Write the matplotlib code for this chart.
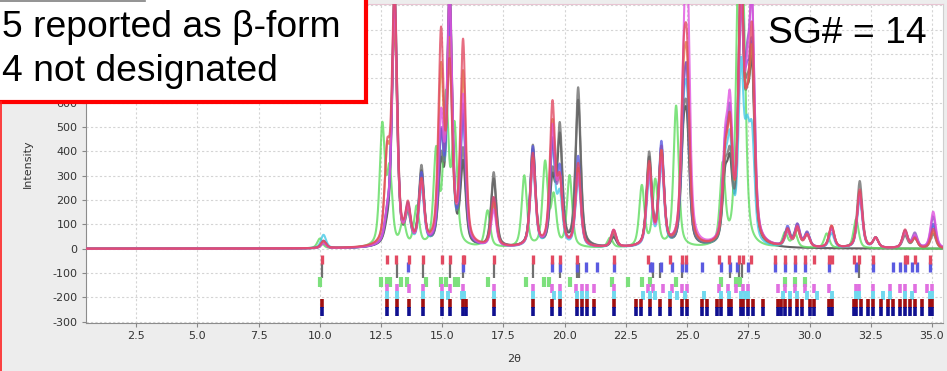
import numpy as np
import matplotlib
matplotlib.use("Agg")
import matplotlib.pyplot as plt
from matplotlib.patches import Rectangle
from matplotlib.lines import Line2D

# ---------------- data ----------------
peak_pos = [10.15, 12.75, 13.05, 13.6, 14.15, 14.95, 15.3, 15.85, 17.1, 18.7, 19.5, 19.8,
            20.55, 22.0, 23.45, 23.95, 24.85, 25.0, 26.55, 26.75, 27.2, 27.45, 27.65, 29.1,
            29.5, 29.9, 30.9, 32.05, 32.7, 33.9, 34.3, 35.05]
gray_h    = [25, 60, 1050, 140, 320, 320, 1050, 380, 305, 415, 280, 480, 650, 50, 380, 400, 380, 420, 260, 300, 1050, 400, 700, 70, 70, 50, 80, 275, 40, 50, 40, 60]
blue_h    = [30, 80, 1000, 150, 290, 420, 900, 520, 200, 410, 420, 300, 370, 60, 330, 420, 420, 560, 330, 420, 1050, 450, 700, 80, 90, 55, 80, 230, 40, 70, 45, 100]
red_h     = [30, 350, 1050, 150, 260, 850, 700, 830, 200, 380, 577, 250, 340, 70, 340, 380, 573, 640, 300, 430, 1050, 330, 800, 70, 80, 50, 90, 240, 40, 75, 40, 80]
magenta_h = [20, 90, 1000, 140, 250, 500, 1000, 600, 150, 350, 480, 260, 300, 70, 300, 350, 440, 1050, 350, 510, 900, 450, 910, 60, 80, 50, 80, 220, 40, 65, 50, 150]
cyan_h    = [55, 80, 1050, 120, 230, 420, 800, 540, 180, 330, 400, 200, 280, 60, 280, 330, 400, 500, 280, 380, 700, 350, 400, 60, 80, 60, 60, 200, 40, 60, 40, 90]
purple_h  = [30, 100, 950, 140, 260, 420, 1000, 560, 200, 370, 420, 260, 320, 70, 330, 400, 420, 560, 330, 460, 950, 500, 880, 70, 90, 60, 85, 230, 40, 70, 60, 130]
orange_h  = [25, 350, 900, 130, 260, 700, 800, 700, 180, 360, 500, 250, 320, 60, 330, 380, 500, 600, 300, 420, 1050, 350, 700, 60, 70, 50, 90, 230, 40, 65, 40, 70]
dark_h    = [20, 50, 950, 120, 300, 300, 1000, 330, 280, 400, 260, 440, 600, 40, 360, 380, 360, 400, 240, 280, 950, 380, 650, 0, 0, 0, 0, 0, 0, 0, 0, 0]

green_pos = [10.0, 12.55, 12.85, 13.4, 13.95, 14.75, 15.15, 15.5, 16.85, 18.35, 19.2, 19.55,
             20.2, 21.85, 23.15, 23.7, 24.55, 26.45, 27.1, 27.3, 29.0, 29.4, 30.7, 31.9]
green_h   = [40, 490, 300, 100, 160, 380, 600, 477, 150, 293, 342, 200, 293, 40, 250, 272, 580, 325, 1050, 800, 60, 60, 60, 120]

red_ticks = [10.1, 12.75, 13.1, 13.65, 14.2, 15.0, 15.3, 15.85, 15.9, 17.1, 18.7, 19.5, 19.8, 20.5, 22.0,
             23.4, 24.3, 24.8, 24.95, 26.3, 26.7, 27.1, 27.3, 27.6, 28.6, 29.0, 29.4, 29.8, 30.2, 30.8,
             30.9, 31.8, 32.0, 32.6, 33.9, 34.0, 34.3, 34.9]
blue_ticks = [13.6, 15.85, 19.5, 19.8, 20.5, 20.85, 21.3, 22.0, 23.5, 23.55, 23.95, 24.4, 24.8, 24.95,
              25.6, 26.4, 26.75, 27.05, 27.5, 28.6, 29.0, 29.4, 29.8, 30.8, 31.9, 32.6, 33.4, 33.7,
              33.9, 34.2, 34.4, 34.9]
gray_ticks = [10.1, 13.15, 14.2, 15.3, 15.85, 17.1, 18.7, 19.8, 20.5, 20.6, 23.6, 23.9, 24.8, 26.75, 27.1, 27.25, 32.0]
green_ticks = [10.0, 12.5, 12.75, 12.85, 13.3, 13.55, 14.35, 14.95, 15.15, 15.5, 15.65, 16.85, 18.4,
               19.15, 19.35, 20.2, 21.95, 22.6, 23.15, 23.5, 24.55, 26.4, 27.0, 27.15, 29.0, 29.4, 29.8]
magenta_ticks = [12.75, 13.15, 13.65, 14.2, 15.0, 15.3, 15.85, 17.1, 18.7, 19.5, 19.8, 20.45, 20.7,
                 20.9, 21.2, 22.0, 23.4, 23.6, 24.0, 24.4, 24.8, 25.0, 26.3, 26.65, 27.0, 27.3, 27.5,
                 28.7, 29.0, 29.4, 29.8, 30.2, 30.8, 31.9, 32.0, 32.6, 33.3, 33.7, 33.9, 34.3, 34.8, 35.0]
cyan_ticks = [12.75, 13.15, 14.2, 15.0, 15.25, 15.8, 15.9, 17.1, 18.7, 19.55, 19.8, 20.5, 20.7, 20.9,
              22.0, 23.2, 23.5, 23.7, 24.3, 24.6, 24.9, 25.7, 26.4, 26.7, 27.2, 27.35, 27.5, 28.9,
              29.2, 29.5, 29.9, 30.3, 30.9, 31.9, 32.0, 32.6, 33.0, 33.3, 33.9, 34.2, 34.9, 35.0]
dark_ticks = [10.1, 12.75, 13.15, 13.65, 14.2, 15.0, 15.3, 15.85, 15.95, 17.1, 18.7, 19.5, 19.8, 20.5,
              20.7, 20.9, 21.2, 22.0, 22.9, 23.1, 23.5, 23.9, 24.3, 24.8, 25.0, 25.6, 25.8, 26.2, 26.4,
              26.7, 26.8, 27.2, 27.3, 27.5, 27.7, 28.1, 28.7, 28.85, 29.0, 29.2, 29.5, 29.7, 30.0,
              30.2, 30.8, 30.9, 31.8, 31.9, 32.1, 32.4, 32.6, 32.9, 33.2, 33.4, 33.7, 33.9, 34.1,
              34.3, 34.6, 34.9, 35.0]

x_ticks = [2.5, 5.0, 7.5, 10.0, 12.5, 15.0, 17.5, 20.0, 22.5, 25.0, 27.5, 30.0, 32.5, 35.0]
y_ticks = [-300, -200, -100, 0, 100, 200, 300, 400, 500, 600, 700, 800, 900, 1000]
y_ticklabels = ["-300", "-200", "-100", "0", "100", "200", "300", "400", "500", "600", "", "", "", ""]

# ---------------- figure ----------------
W, H = 947, 371
fig = plt.figure(figsize=(W / 100, H / 100), dpi=100, facecolor="#ededed")
ax = fig.add_axes([86 / W, 1 - 323 / H, (943 - 86) / W, (323 - 4) / H])
ax.set_facecolor("white")
ax.set_xlim(0.45, 35.45)
ax.set_ylim(-305, 1005)

tt = np.linspace(0.45, 35.45, 7000)
FW = 0.25
ETA = 0.55


def profile(pos, hts):
    y = np.zeros_like(tt)
    for p, h in zip(pos, hts):
        d = (tt - p) / (FW / 2)
        y += h * (ETA / (1.0 + d ** 2) + (1 - ETA) * np.exp(-np.log(2) * d ** 2))
    return y


series = [
    (peak_pos, dark_h, "#3a3a3a"),
    (green_pos, green_h, "#5fdc5f"),
    (peak_pos, cyan_h, "#45c8e6"),
    (peak_pos, gray_h, "#707070"),
    (peak_pos, blue_h, "#5a5ae0"),
    (peak_pos, purple_h, "#8a55c0"),
    (peak_pos, orange_h, "#e07a3c"),
    (peak_pos, magenta_h, "#e052e0"),
    (peak_pos, red_h, "#e24a62"),
]
for pos, hts, col in series:
    ax.plot(tt, profile(pos, hts), color=col, lw=1.5, alpha=0.8, zorder=3)

# reflection tick rows
rows = [
    (gray_ticks, -60, -120, "#707070", 1.6),
    (blue_ticks, -55, -95, "#5a5ae0", 2.4),
    (red_ticks, -25, -62, "#e24a62", 2.4),
    (green_ticks, -118, -158, "#7de07d", 3.0),
    (magenta_ticks, -145, -182, "#e070e0", 2.6),
    (cyan_ticks, -172, -210, "#70d8ee", 2.8),
    (dark_ticks, -208, -245, "#a01010", 2.6),
    (dark_ticks, -240, -278, "#101090", 2.6),
]
for ticks, y0, y1, col, lw in rows:
    ax.vlines(ticks, y0, y1, colors=col, lw=lw, zorder=2)

ax.set_xticks(x_ticks)
ax.set_xticklabels([f"{v:.1f}" for v in x_ticks])
ax.set_yticks(y_ticks)
ax.set_yticklabels(y_ticklabels)
ax.grid(True, ls=(0, (2, 2)), color="#d4d4d4", lw=0.8, zorder=0)
ax.tick_params(direction="out", length=3, color="#888888", labelsize=8,
               labelcolor="#333333", pad=3)
for s in ["left", "bottom"]:
    ax.spines[s].set_color("#8c8c8c")
ax.spines["top"].set_color("#e8c4d2")
ax.spines["right"].set_color("#cfcfcf")
ax.set_xlabel("2θ", fontsize=8, color="#333333", labelpad=9)
ax.set_ylabel("Intensity", fontsize=8, color="#333333", labelpad=14)

# annotation box
box = Rectangle((-0.01, 1 - 101.5 / H), 0.01 + 365.5 / W, 101.5 / H + 0.02,
                transform=fig.transFigure, facecolor="white", edgecolor="#ff0000",
                lw=3.0, zorder=10, clip_on=False)
fig.add_artist(box)
fig.add_artist(Line2D([1 / W, 1 / W], [0, 1 - 101.5 / H], transform=fig.transFigure,
                      color="#ff2020", lw=1.2, zorder=10))
fig.add_artist(Line2D([0, 145 / W], [1 - 0.5 / H, 1 - 0.5 / H], transform=fig.transFigure,
                      color="#808080", lw=1.2, zorder=11))

fam = ["Liberation Sans", "DejaVu Sans"]
fig.text(2 / W, 1 - 37 / H, "5 reported as β-form", fontsize=26.8, family=fam,
         va="baseline", ha="left", zorder=12)
fig.text(2 / W, 1 - 81 / H, "4 not designated", fontsize=26.8, family=fam,
         va="baseline", ha="left", zorder=12)
fig.text(927 / W, 1 - 43 / H, "SG# = 14", fontsize=26.8, family=fam,
         va="baseline", ha="right", zorder=12)

fig.savefig("out.png", dpi=100, facecolor=fig.get_facecolor())
